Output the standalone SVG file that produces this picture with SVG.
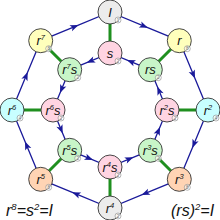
<svg xmlns="http://www.w3.org/2000/svg" width="220" height="220" viewBox="0 0 220 220">
<style>
.b{stroke:#1a1a9a;stroke-width:1.3;fill:none;marker-mid:url(#a)}
.g{stroke:#1f8f1f;stroke-width:3;fill:none}
.n{stroke:#333;stroke-width:0.9}
.gray{fill:#ececec}.yel{fill:#ffffbc}.cyan{fill:#c8ffff}.peach{fill:#ffd4b4}.pink{fill:#ffd4e2}.grn{fill:#c8f5c8}
.t{font-family:"Liberation Sans",Arial,sans-serif;font-style:italic;font-size:13px;fill:#111;text-anchor:middle}
.bd{fill:#fff;fill-opacity:0.6;stroke:#888;stroke-width:0.6}
.bt{font-family:"Liberation Sans",Arial,sans-serif;font-size:4.5px;fill:#777;text-anchor:middle}
.eq{font-family:"Liberation Sans",Arial,sans-serif;font-style:italic;font-size:16px;fill:#111}
</style>
<defs>
<marker id="a" viewBox="-6 -4 10 8" refX="0" refY="0" markerWidth="10" markerHeight="8" orient="auto" markerUnits="userSpaceOnUse">
<path d="M3.5,0 L-5,-3.3 L-3,0 L-5,3.3 Z" fill="#1a1a9a"/>
</marker>
</defs>
<g id="connectors">
<path class="g" d="M110,12 L110,53"/>
<path class="g" d="M179.3,40.7 L150.3,69.7"/>
<path class="g" d="M208,110 L167,110"/>
<path class="g" d="M179.3,179.3 L150.3,150.3"/>
<path class="g" d="M110,208 L110,167"/>
<path class="g" d="M40.7,179.3 L69.7,150.3"/>
<path class="g" d="M12,110 L53,110"/>
<path class="g" d="M40.7,40.7 L69.7,69.7"/>
<path class="b" d="M110,12 L144.65,26.35 L179.3,40.7"/>
<path class="b" d="M179.3,40.7 L193.65,75.35 L208,110"/>
<path class="b" d="M208,110 L193.65,144.65 L179.3,179.3"/>
<path class="b" d="M179.3,179.3 L144.65,193.65 L110,208"/>
<path class="b" d="M110,208 L75.35,193.65 L40.7,179.3"/>
<path class="b" d="M40.7,179.3 L26.35,144.65 L12,110"/>
<path class="b" d="M12,110 L26.35,75.35 L40.7,40.7"/>
<path class="b" d="M40.7,40.7 L75.35,26.35 L110,12"/>
<path class="b" d="M110,53 L89.85,61.35 L69.7,69.7"/>
<path class="b" d="M69.7,69.7 L61.35,89.85 L53,110"/>
<path class="b" d="M53,110 L61.35,130.15 L69.7,150.3"/>
<path class="b" d="M69.7,150.3 L89.85,158.65 L110,167"/>
<path class="b" d="M110,167 L130.15,158.65 L150.3,150.3"/>
<path class="b" d="M150.3,150.3 L158.65,130.15 L167,110"/>
<path class="b" d="M167,110 L158.65,89.85 L150.3,69.7"/>
<path class="b" d="M150.3,69.7 L130.15,61.35 L110,53"/>
</g>
<g id="n-I"><circle class="n gray" cx="110" cy="12" r="12"/><text class="t" x="110" y="16.5">I</text><circle class="bd" cx="118" cy="20" r="3"/><text class="bt" x="118" y="21.6">1</text></g>
<g id="n-r"><circle class="n yel" cx="179.3" cy="40.7" r="12"/><text class="t" x="179.3" y="45">r</text><circle class="bd" cx="187.3" cy="48.7" r="3"/><text class="bt" x="187.3" y="50.3">8</text></g>
<g id="n-r2"><circle class="n cyan" cx="208" cy="110" r="12"/><text class="t" x="208" y="114.5">r<tspan font-size="7.5" dy="-5">2</tspan></text><circle class="bd" cx="216" cy="118" r="3"/><text class="bt" x="216" y="119.6">4</text></g>
<g id="n-r3"><circle class="n peach" cx="179.3" cy="179.3" r="12"/><text class="t" x="179.3" y="183.8">r<tspan font-size="7.5" dy="-5">3</tspan></text><circle class="bd" cx="187.3" cy="187.3" r="3"/><text class="bt" x="187.3" y="188.9">8</text></g>
<g id="n-r4"><circle class="n gray" cx="110" cy="208" r="12"/><text class="t" x="110" y="212.5">r<tspan font-size="7.5" dy="-5">4</tspan></text><circle class="bd" cx="118" cy="216" r="3"/><text class="bt" x="118" y="217.6">2</text></g>
<g id="n-r5"><circle class="n peach" cx="40.7" cy="179.3" r="12"/><text class="t" x="40.7" y="183.8">r<tspan font-size="7.5" dy="-5">5</tspan></text><circle class="bd" cx="48.7" cy="187.3" r="3"/><text class="bt" x="48.7" y="188.9">8</text></g>
<g id="n-r6"><circle class="n cyan" cx="12" cy="110" r="12"/><text class="t" x="12" y="114.5">r<tspan font-size="7.5" dy="-5">6</tspan></text><circle class="bd" cx="20" cy="118" r="3"/><text class="bt" x="20" y="119.6">4</text></g>
<g id="n-r7"><circle class="n yel" cx="40.7" cy="40.7" r="12"/><text class="t" x="40.7" y="45.2">r<tspan font-size="7.5" dy="-5">7</tspan></text><circle class="bd" cx="48.7" cy="48.7" r="3"/><text class="bt" x="48.7" y="50.3">8</text></g>
<g id="n-s"><circle class="n pink" cx="110" cy="53" r="12"/><text class="t" x="110" y="57.5">s</text><circle class="bd" cx="118" cy="61" r="3"/><text class="bt" x="118" y="62.6">2</text></g>
<g id="n-rs"><circle class="n grn" cx="150.3" cy="69.7" r="12"/><text class="t" x="150.3" y="74">rs</text><circle class="bd" cx="158.3" cy="77.7" r="3"/><text class="bt" x="158.3" y="79.3">2</text></g>
<g id="n-r2s"><circle class="n pink" cx="167" cy="110" r="12"/><text class="t" x="167" y="114.5">r<tspan font-size="7.5" dy="-5">2</tspan><tspan dy="5">s</tspan></text><circle class="bd" cx="175" cy="118" r="3"/><text class="bt" x="175" y="119.6">2</text></g>
<g id="n-r3s"><circle class="n grn" cx="150.3" cy="150.3" r="12"/><text class="t" x="150.3" y="154.8">r<tspan font-size="7.5" dy="-5">3</tspan><tspan dy="5">s</tspan></text><circle class="bd" cx="158.3" cy="158.3" r="3"/><text class="bt" x="158.3" y="159.9">2</text></g>
<g id="n-r4s"><circle class="n pink" cx="110" cy="167" r="12"/><text class="t" x="110" y="171.5">r<tspan font-size="7.5" dy="-5">4</tspan><tspan dy="5">s</tspan></text><circle class="bd" cx="118" cy="175" r="3"/><text class="bt" x="118" y="176.6">2</text></g>
<g id="n-r5s"><circle class="n grn" cx="69.7" cy="150.3" r="12"/><text class="t" x="69.7" y="154.8">r<tspan font-size="7.5" dy="-5">5</tspan><tspan dy="5">s</tspan></text><circle class="bd" cx="77.7" cy="158.3" r="3"/><text class="bt" x="77.7" y="159.9">2</text></g>
<g id="n-r6s"><circle class="n pink" cx="53" cy="110" r="12"/><text class="t" x="53" y="114.5">r<tspan font-size="7.5" dy="-5">6</tspan><tspan dy="5">s</tspan></text><circle class="bd" cx="61" cy="118" r="3"/><text class="bt" x="61" y="119.6">2</text></g>
<g id="n-r7s"><circle class="n grn" cx="69.7" cy="69.7" r="12"/><text class="t" x="69.7" y="74.2">r<tspan font-size="7.5" dy="-5">7</tspan><tspan dy="5">s</tspan></text><circle class="bd" cx="77.7" cy="77.7" r="3"/><text class="bt" x="77.7" y="79.3">2</text></g>
<text class="eq" x="6" y="216">r<tspan font-size="9.5" dy="-6.5">8</tspan><tspan dy="6.5">=s</tspan><tspan font-size="9.5" dy="-6.5">2</tspan><tspan dy="6.5">=I</tspan></text>
<text class="eq" x="171" y="216">(rs)<tspan font-size="9.5" dy="-6.5">2</tspan><tspan dy="6.5">=I</tspan></text>
</svg>
